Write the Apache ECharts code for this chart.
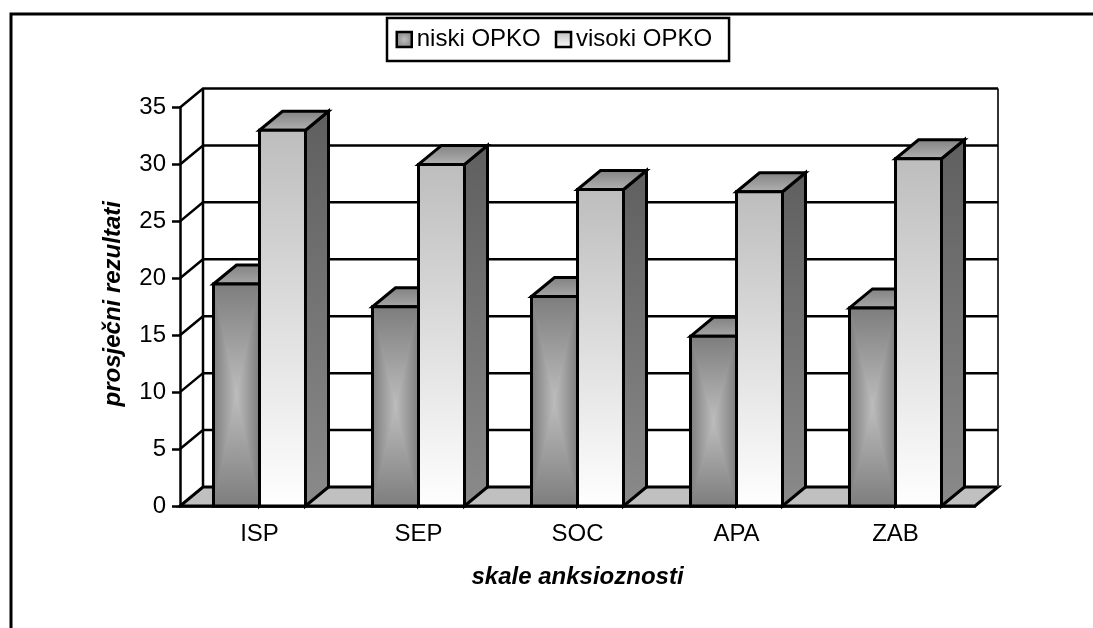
<!DOCTYPE html>
<html>
<head>
    <meta charset="utf-8"/>
    <script src="https://cdn.jsdelivr.net/npm/echarts@6/dist/echarts.min.js"></script>
    <style>
        html, body { margin: 0; padding: 0; background: #fff; }
    </style>
</head>
<body>
<div id="main" style="width: 1093px;height:628px;"></div>
<script type="text/javascript">
    var categories = ['ISP', 'SEP', 'SOC', 'APA', 'ZAB'];
    var niskiOpko = [19.5, 17.5, 18.4, 14.9, 17.4];
    var visokiOpko = [33.0, 30.0, 27.8, 27.6, 30.5];
    var yTicks = [5, 10, 15, 20, 25, 30, 35];

    // depth of the fake 3d box, in pixels
    var DX = 23, DY = -19;
    var BAR_W = 46 / 159;
    var STROKE = { stroke: '#000', lineWidth: 2.5 };

    var myChart = echarts.init(document.getElementById('main'));

    function vgrad(top, bottom) {
        return new echarts.graphic.LinearGradient(0, 0, 0, 1, [
            { offset: 0, color: top }, { offset: 1, color: bottom }
        ]);
    }
    function hgrad(left, right) {
        return new echarts.graphic.LinearGradient(0, 0, 1, 0, [
            { offset: 0, color: left }, { offset: 1, color: right }
        ]);
    }
    function poly(points, fill) {
        return {
            type: 'polygon',
            shape: { points: points },
            style: { fill: fill, stroke: '#000', lineWidth: 3, lineJoin: 'miter' }
        };
    }
    // no black outline, stroked with its own gradient so the seams close up
    function patch(points, fill) {
        return {
            type: 'polygon',
            z2: 1,
            shape: { points: points },
            style: { fill: fill, stroke: fill, lineWidth: 1 }
        };
    }

    // the box: side and top faces are shared, the front differs per series
    function boxItem(api, slot, frontFn, topFront) {
        var p = api.coord([api.value(0), api.value(1)]);
        var base = api.coord([api.value(0), 0]);
        var w = api.size([1, 0])[0] * BAR_W;
        var x0 = p[0] - w + slot * w, x1 = x0 + w;
        var y0 = p[1], y1 = base[1];
        var children = [
            poly([[x1, y0], [x1 + DX, y0 + DY], [x1 + DX, y1 + DY], [x1, y1]], vgrad('#5f5f5f', '#8a8a8a')),
            poly([[x0, y0], [x0 + DX, y0 + DY], [x1 + DX, y0 + DY], [x1, y0]], vgrad('#808080', topFront))
        ];
        return { type: 'group', children: children.concat(frontFn(x0, y0, x1, y1)) };
    }

    // rectangular "from centre" gradient of the low series, made of four triangles
    function centreFront(x0, y0, x1, y1) {
        var cx = (x0 + x1) / 2, cy = (y0 + y1) / 2;
        var edge = '#7d7d7d', mid = '#bdbdbd';
        return [
            patch([[x0, y0], [x1, y0], [cx, cy]], vgrad(edge, mid)),
            patch([[x0, y1], [x1, y1], [cx, cy]], vgrad(mid, edge)),
            patch([[x0, y0], [x0, y1], [cx, cy]], hgrad(edge, mid)),
            patch([[x1, y0], [x1, y1], [cx, cy]], hgrad(mid, edge)),
            { type: 'rect', z2: 2, shape: { x: x0, y: y0, width: x1 - x0, height: y1 - y0 }, style: { fill: null, stroke: '#000', lineWidth: 3 } }
        ];
    }
    function plainFront(x0, y0, x1, y1) {
        return [
            { type: 'rect', z2: 2, shape: { x: x0, y: y0, width: x1 - x0, height: y1 - y0 }, style: { fill: vgrad('#bdbdbd', '#ffffff'), stroke: '#000', lineWidth: 3 } }
        ];
    }

    var option = {
        animation: false,
        backgroundColor: '#fff',
        textStyle: { fontFamily: 'Liberation Sans', color: '#000' },
        graphic: [{
            type: 'polyline',
            silent: true,
            shape: { points: [[11, 640], [11, 14], [1100, 14]] },
            style: { fill: null, stroke: '#000', lineWidth: 3 }
        }],
        legend: {
            left: 387,
            top: 18,
            padding: [9.5, 17, 9.5, 8.5],
            itemGap: 14,
            itemWidth: 15,
            itemHeight: 15,
            borderColor: '#000',
            borderWidth: 2.5,
            textStyle: { fontFamily: 'Liberation Sans', fontSize: 24, color: '#000' },
            data: [
                {
                    name: 'niski OPKO',
                    icon: 'rect',
                    itemStyle: {
                        color: new echarts.graphic.RadialGradient(0.5, 0.5, 0.6, [
                            { offset: 0, color: '#bdbdbd' }, { offset: 1, color: '#7d7d7d' }
                        ]),
                        borderColor: '#000',
                        borderWidth: 2.5
                    }
                },
                { name: 'visoki OPKO', icon: 'rect', itemStyle: { color: vgrad('#bdbdbd', '#ffffff'), borderColor: '#000', borderWidth: 2.5 } }
            ]
        },
        grid: { left: 180, right: 118, top: 107.5, bottom: 122 },
        xAxis: {
            type: 'category',
            data: categories,
            z: 5,
            name: 'skale anksioznosti',
            nameLocation: 'middle',
            nameGap: 59,
            nameTextStyle: { fontFamily: 'Liberation Sans', fontSize: 24, fontWeight: 'bold', fontStyle: 'italic', color: '#000' },
            axisLine: { lineStyle: { color: '#000', width: 2.5 } },
            axisTick: { length: 8, lineStyle: { color: '#000', width: 2.5 } },
            axisLabel: { fontFamily: 'Liberation Sans', fontSize: 24, color: '#000', margin: 16 },
            splitLine: { show: false }
        },
        yAxis: {
            type: 'value',
            min: 0,
            max: 35,
            interval: 5,
            z: 5,
            name: 'prosječni rezultati',
            nameLocation: 'middle',
            nameRotate: 90,
            nameGap: 55,
            nameTextStyle: { fontFamily: 'Liberation Sans', fontSize: 24, fontWeight: 'bold', fontStyle: 'italic', color: '#000', padding: [0, 0, 0, 6] },
            axisLine: { show: true, lineStyle: { color: '#000', width: 2.5 } },
            axisTick: { show: true, length: 8, lineStyle: { color: '#000', width: 2.5 } },
            axisLabel: { fontFamily: 'Liberation Sans', fontSize: 24, color: '#000', margin: 14 },
            splitLine: { show: false }
        },
        series: [
            {
                // floor and walls of the box
                type: 'custom',
                silent: true,
                z: 1,
                data: [[0, 0]],
                renderItem: function (params, api) {
                    var half = api.size([1, 0])[0] / 2;
                    var a = api.coord([0, 0]), b = api.coord([categories.length - 1, 0]);
                    var top = api.coord([0, 35]);
                    var xl = a[0] - half, xr = b[0] + half, yb = a[1];
                    return {
                        type: 'group',
                        children: [
                            poly([[xl, yb], [xr, yb], [xr + DX, yb + DY], [xl + DX, yb + DY]], '#c0c0c0'),
                            { type: 'line', shape: { x1: xl + DX, y1: yb + DY, x2: xl + DX, y2: top[1] + DY }, style: STROKE },
                            { type: 'line', shape: { x1: xr + DX, y1: yb + DY, x2: xr + DX, y2: top[1] + DY }, style: { stroke: '#333', lineWidth: 2 } }
                        ]
                    };
                }
            },
            {
                // one wall line per y tick, running round the left and back walls
                type: 'custom',
                silent: true,
                z: 1,
                data: yTicks.map(function (t) { return [0, t]; }),
                renderItem: function (params, api) {
                    var half = api.size([1, 0])[0] / 2;
                    var a = api.coord([0, api.value(1)]), b = api.coord([categories.length - 1, api.value(1)]);
                    return {
                        type: 'polyline',
                        shape: { points: [[a[0] - half, a[1]], [a[0] - half + DX, a[1] + DY], [b[0] + half + DX, a[1] + DY]] },
                        style: { fill: null, stroke: '#000', lineWidth: 2.5 }
                    };
                }
            },
            {
                name: 'niski OPKO',
                type: 'custom',
                z: 2,
                data: niskiOpko.map(function (v, i) { return [i, v]; }),
                renderItem: function (params, api) {
                    return boxItem(api, 0, centreFront, '#a8a8a8');
                }
            },
            {
                name: 'visoki OPKO',
                type: 'custom',
                z: 3,
                data: visokiOpko.map(function (v, i) { return [i, v]; }),
                renderItem: function (params, api) {
                    return boxItem(api, 1, plainFront, '#b4b4b4');
                }
            }
        ]
    };

    myChart.setOption(option);
</script>
</body>
</html>
